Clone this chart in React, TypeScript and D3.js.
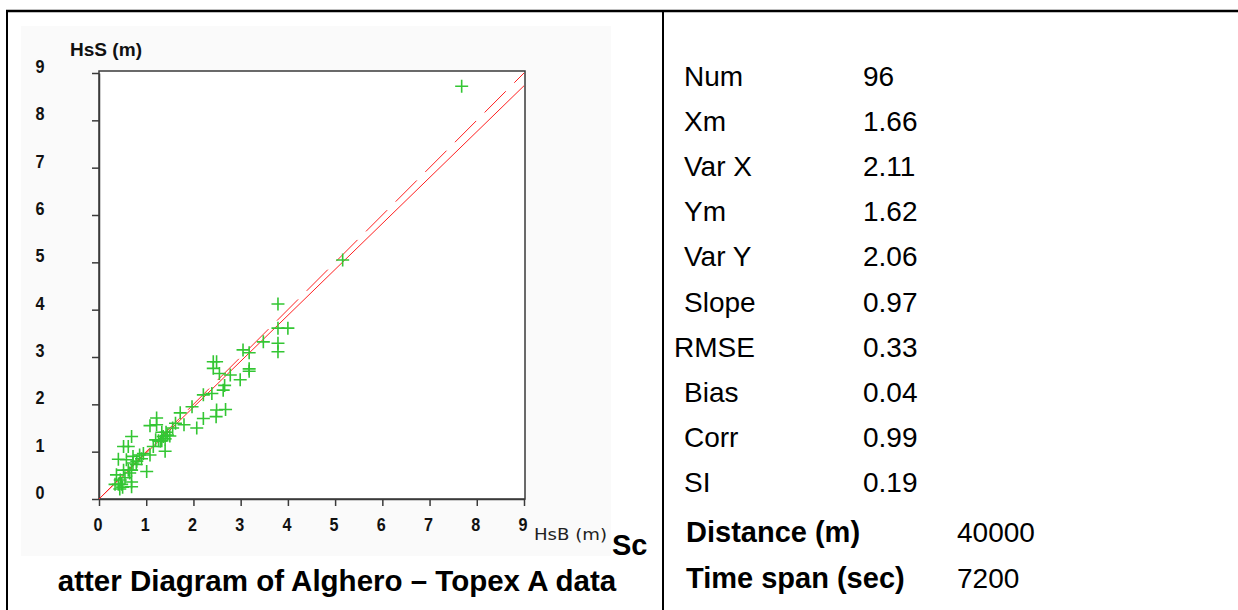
import React, { useEffect, useRef } from 'react';
import * as d3 from 'd3';

// HsB (buoy) vs HsS (satellite), metres
const hsB = [
  7.68, 5.16, 3.79, 3.79, 4.00, 3.79, 3.79, 3.48, 3.18, 3.18, 3.18, 2.42, 2.49, 2.42,
  2.78, 2.66, 2.99, 2.63, 2.39, 2.21, 2.49, 2.68, 2.48, 2.21, 2.07, 1.97, 1.72, 1.80,
  1.56, 1.50, 1.42, 1.22, 1.08, 1.22, 1.33, 1.26, 1.33, 1.40, 1.15, 1.40, 1.08, 0.94,
  0.69, 0.52, 0.62, 0.41, 0.58, 0.72, 0.86, 0.72, 1.01, 0.52, 0.62, 0.69, 0.37, 0.69,
  0.34, 0.41, 0.48, 0.44, 0.69, 0.79, 1.45, 1.30, 1.20, 0.90, 0.80, 0.55, 0.65, 0.45,
  0.50, 3.05, 2.55, 1.62, 1.36
];
const hsS = [
  8.72, 5.05, 4.12, 3.61, 3.61, 3.29, 3.11, 3.32, 3.09, 2.75, 2.70, 2.90, 2.90, 2.76,
  2.62, 2.40, 2.52, 2.30, 2.23, 2.20, 1.88, 1.89, 1.74, 1.70, 1.50, 1.95, 1.82, 1.57,
  1.50, 1.33, 1.41, 1.71, 1.55, 1.57, 1.41, 1.23, 1.23, 1.27, 1.11, 1.01, 0.93, 0.96,
  1.32, 1.11, 1.11, 0.84, 0.83, 0.90, 0.93, 0.76, 0.58, 0.61, 0.61, 0.61, 0.51, 0.36,
  0.31, 0.31, 0.31, 0.21, 0.26, 0.73, 1.35, 1.22, 1.25, 0.85, 0.80, 0.45, 0.55, 0.40,
  0.25, 3.15, 2.65, 1.60, 1.32
];
const axisTicks = [0, 1, 2, 3, 4, 5, 6, 7, 8, 9];
const fitSlope = 0.97;

const statLabels = ['Num', 'Xm', 'Var X', 'Ym', 'Var Y', 'Slope', 'RMSE', 'Bias', 'Corr', 'SI'];
const statValues = ['96', '1.66', '2.11', '1.62', '2.06', '0.97', '0.33', '0.04', '0.99', '0.19'];
const extraLabels = ['Distance (m)', 'Time span (sec)'];
const extraValues = ['40000', '7200'];

const arial = "'Liberation Sans', Arial, sans-serif";

const App = () => {
  const svgRef = useRef<SVGSVGElement>(null);

  useEffect(() => {
    if (!svgRef.current) return;
    const svg = d3.select(svgRef.current);
    svg.selectAll('*').remove();

    svg.append('rect').attr('width', 1238).attr('height', 610).attr('fill', 'white');

    // panel behind the plot
    svg.append('rect').attr('x', 21).attr('y', 26).attr('width', 590).attr('height', 530).attr('fill', '#fafafa');

    // table frame
    svg.append('line').attr('x1', 6).attr('x2', 1238).attr('y1', 11).attr('y2', 11).attr('stroke', 'black').attr('stroke-width', 2.5);
    svg.append('line').attr('x1', 7).attr('x2', 7).attr('y1', 10).attr('y2', 610).attr('stroke', 'black').attr('stroke-width', 2);
    svg.append('line').attr('x1', 663).attr('x2', 663).attr('y1', 10).attr('y2', 610).attr('stroke', 'black').attr('stroke-width', 2);

    const x = d3.scaleLinear().domain([0, 9]).range([99, 524]);
    const y = d3.scaleLinear().domain([0, 9]).range([499, 73]);

    // plot box
    svg.append('rect').attr('x', 99).attr('y', 71).attr('width', 426).attr('height', 428)
      .attr('fill', 'white').attr('stroke', '#3a3a3a').attr('stroke-width', 1.5);

    // axes
    const gx = svg.append('g').attr('transform', 'translate(0,499)')
      .call(d3.axisBottom(x).tickValues(axisTicks).tickSize(7).tickSizeOuter(0).tickFormat(d3.format('d')));
    const gy = svg.append('g').attr('transform', 'translate(99,0)')
      .call(d3.axisLeft(y).tickValues(axisTicks).tickSize(7).tickSizeOuter(0).tickFormat(d3.format('d')));
    [gx, gy].forEach(g => {
      g.select('.domain').attr('stroke', '#3a3a3a').attr('stroke-width', 1.5);
      g.selectAll('.tick line').attr('stroke', '#3a3a3a').attr('stroke-width', 1.5);
      g.selectAll('.tick text').attr('font-family', arial).attr('font-weight', 'bold')
        .attr('font-size', 19).attr('textLength', 9).attr('lengthAdjust', 'spacingAndGlyphs').attr('fill', '#111');
    });
    gx.selectAll('.tick text').attr('y', 32).attr('dy', 0).attr('x', -1.5);
    gy.selectAll('.tick text').attr('x', -59).attr('dy', -0.5).attr('text-anchor', 'middle');

    // axis titles
    svg.append('text').attr('x', 70).attr('y', 56).attr('font-family', arial).attr('font-weight', 'bold')
      .attr('font-size', 18).attr('textLength', 72).attr('lengthAdjust', 'spacingAndGlyphs').attr('fill', '#111').text('HsS (m)');
    svg.append('text').attr('x', 534).attr('y', 540).attr('font-family', "'DejaVu Sans', sans-serif")
      .attr('font-size', 15).attr('textLength', 73).attr('lengthAdjust', 'spacingAndGlyphs').attr('fill', '#222').text('HsB (m)');

    // reference lines
    svg.append('line').attr('x1', x(0)).attr('y1', y(0)).attr('x2', x(9)).attr('y2', y(9))
      .attr('stroke', '#ff2020').attr('stroke-width', 1).attr('stroke-dasharray', '30,12');
    svg.append('line').attr('x1', x(0)).attr('y1', y(0)).attr('x2', x(9)).attr('y2', y(9 * fitSlope))
      .attr('stroke', '#ff2020').attr('stroke-width', 1);

    // points
    svg.append('g').selectAll('path').data(hsB.map((b, i) => [b, hsS[i]]))
      .enter().append('path')
      .attr('transform', d => `translate(${x(d[0])},${y(d[1])})`)
      .attr('d', 'M-6.5,0H6.5M0,-6.5V6.5')
      .attr('stroke', '#33c633').attr('stroke-width', 1.6).attr('fill', 'none');

    // caption
    svg.append('text').attr('x', 612).attr('y', 555).attr('font-family', arial).attr('font-weight', 'bold')
      .attr('font-size', 29).attr('fill', 'black').text('Sc');
    svg.append('text').attr('x', 337).attr('y', 591).attr('text-anchor', 'middle').attr('font-family', arial)
      .attr('font-weight', 'bold').attr('font-size', 29.5).attr('fill', 'black').text('atter Diagram of Alghero – Topex A data');

    // stats table
    const row = d3.scalePoint().domain(statLabels).range([86, 492]);
    const stats = svg.append('g');
    stats.selectAll('text.lbl').data(statLabels).enter().append('text').attr('class', 'lbl')
      .attr('x', d => d === 'RMSE' ? 674 : 684).attr('y', d => row(d) as number)
      .attr('font-family', arial).attr('font-size', 28).attr('fill', 'black').text(d => d);
    stats.selectAll('text.val').data(statValues).enter().append('text').attr('class', 'val')
      .attr('x', 863).attr('y', (d, i) => row(statLabels[i]) as number)
      .attr('font-family', arial).attr('font-size', 28).attr('fill', 'black').text(d => d);

    const row2 = d3.scalePoint().domain(extraLabels).range([542, 588]);
    stats.selectAll('text.xl').data(extraLabels).enter().append('text').attr('class', 'xl')
      .attr('x', 686).attr('y', d => row2(d) as number)
      .attr('font-family', arial).attr('font-weight', 'bold').attr('font-size', 29).attr('fill', 'black').text(d => d);
    stats.selectAll('text.xv').data(extraValues).enter().append('text').attr('class', 'xv')
      .attr('x', 957).attr('y', (d, i) => row2(extraLabels[i]) as number)
      .attr('font-family', arial).attr('font-size', 28).attr('fill', 'black').text(d => d);
  }, []);

  return (
    <svg ref={svgRef} width={1238} height={610} viewBox="0 0 1238 610"
      style={{ position: 'absolute', left: 0, top: 0, display: 'block' }} />
  );
};

export default App;
